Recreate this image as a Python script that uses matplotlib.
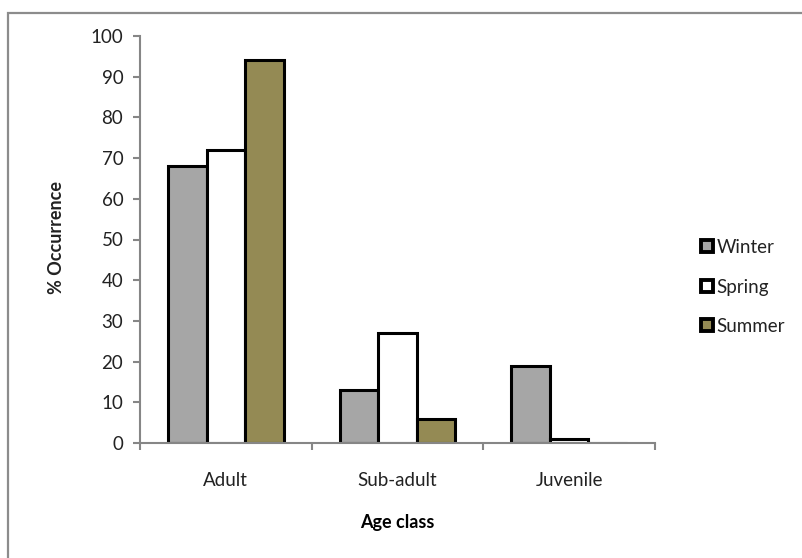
import numpy as np
import matplotlib.pyplot as plt
from matplotlib.patches import Rectangle

plt.rcParams['font.family'] = ['Lato', 'DejaVu Sans']

# percentage of occurrence per age class and season
age_classes = ['Adult', 'Sub-adult', 'Juvenile']
seasons = ['Winter', 'Spring', 'Summer']
winter = [68, 13, 19]
spring = [72, 27, 1]
summer = [94, 6, 0]
colors = ['#a6a6a6', '#ffffff', '#948a54']

W, H = 803, 558
fig = plt.figure(figsize=(W / 100, H / 100), dpi=100)

# chart area border (runs off the right and bottom edges)
fig.patches.append(Rectangle((8 / W, -0.1), 1.2, 1 - 13 / H + 0.1,
                             transform=fig.transFigure, fill=False,
                             edgecolor='#8c8c8c', linewidth=1.6))

ax = fig.add_axes([140 / W, 1 - 443 / H, (655 - 140) / W, (443 - 36) / H])

x = np.arange(len(age_classes)) + 0.5
width = 0.225
for i, (vals, name, c) in enumerate(zip([winter, spring, summer], seasons, colors)):
    ax.bar(x + (i - 1) * width, vals, width, color=c, edgecolor='black',
           linewidth=2.2, label=name, zorder=2)

ax.set_xlim(0, 3)
ax.set_ylim(0, 100)
ax.set_yticks(range(0, 101, 10))
ax.set_xticks([0, 1, 2, 3])
ax.set_xticklabels([])
ax.set_xticks(x, minor=True)
ax.set_xticklabels(age_classes, minor=True)
ax.tick_params(axis='x', which='minor', length=0, pad=21, labelsize=13.5, labelcolor='#222222')
ax.tick_params(axis='x', which='major', length=5, direction='out', width=1.5, color='#868686')
ax.tick_params(axis='y', length=5, direction='out', width=1.5, color='#868686',
               labelsize=13.5, labelcolor='#222222', pad=7)

for s in ['top', 'right']:
    ax.spines[s].set_visible(False)
for s in ['left', 'bottom']:
    ax.spines[s].set_color('#868686')
    ax.spines[s].set_linewidth(1.5)
    ax.spines[s].set_zorder(3)

ax.set_xlabel('Age class', fontsize=13, fontweight='bold', labelpad=18)
fig.text(57 / W, 1 - 237 / H, '% Occurrence', rotation=90, ha='center', va='center',
         fontsize=13, fontweight='bold', color='#222222')

leg = ax.legend(loc='center left', bbox_to_anchor=(692 / W, 1 - 287 / H),
                bbox_transform=fig.transFigure, frameon=False, fontsize=13.5,
                handlelength=0.6, handleheight=0.6, handletextpad=0.2,
                labelspacing=1.2, borderpad=0)
for t in leg.get_texts():
    t.set_color('#222222')
for p in leg.get_patches():
    p.set_linewidth(2.8)

fig.savefig('out.png', dpi=100)
